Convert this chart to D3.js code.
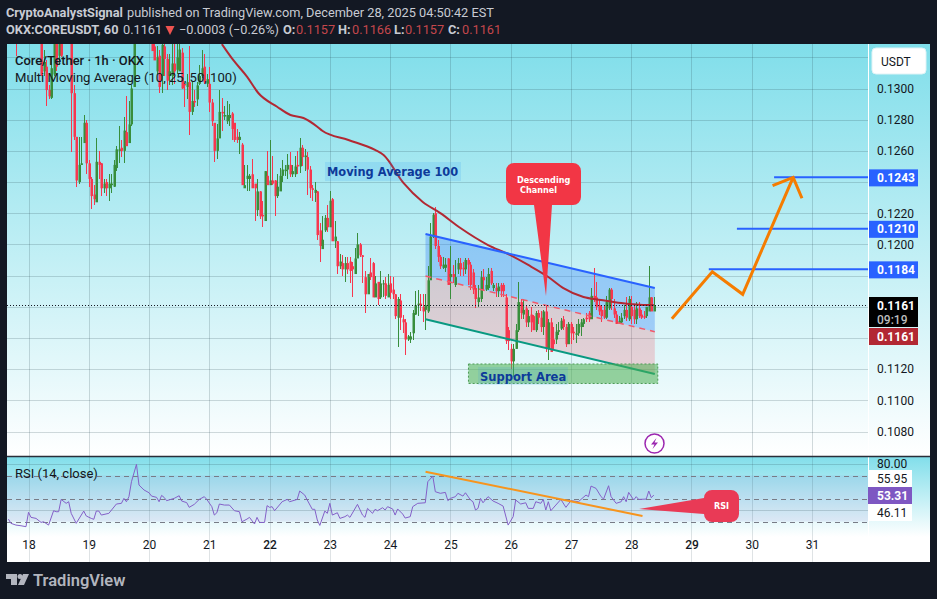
<!DOCTYPE html>
<html>
<head>
<meta charset="utf-8">
<script src="https://d3js.org/d3.v7.min.js"></script>
<style>
  html, body { margin: 0; padding: 0; background: #131823; }
  svg { display: block; font-family: Roboto, sans-serif; }
</style>
</head>
<body>
<div id="chart"></div>
<script>
// candles are hourly, first one is hour -8 (hour 0 = start of day 18)
// prices are in ticks of 0.0001 USDT
var firstHour = -8;

var candleOpen = [
  1338,1333,1338,1335,1331,1336,1333,1337,1334,1338,
  1336,1339,1335,1331,1311,1314,1299,1294,1309,1336,
  1321,1338,1336,1338,1334,1334,1297,1269,1240,1251,
  1265,1278,1252,1242,1232,1227,1253,1252,1236,1240,
  1236,1238,1237,1249,1260,1262,1260,1272,1265,1277,
  1301,1335,1338,1335,1337,1334,1336,1331,1327,1311,
  1321,1308,1327,1319,1308,1308,1316,1312,1311,1323,
  1303,1301,1304,1285,1292,1293,1303,1308,1314,1303,
  1303,1291,1278,1260,1268,1285,1282,1279,1281,1284,
  1278,1269,1267,1264,1236,1242,1242,1245,1239,1222,
  1234,1219,1215,1244,1238,1241,1241,1231,1234,1244,
  1247,1248,1251,1245,1245,1251,1250,1262,1256,1256,
  1248,1236,1233,1234,1209,1197,1209,1217,1211,1229,
  1202,1202,1186,1188,1184,1188,1189,1186,1181,1191,
  1200,1193,1179,1168,1182,1188,1166,1176,1166,1175,
  1175,1166,1175,1171,1168,1153,1164,1152,1150,1139,
  1139,1143,1155,1161,1162,1160,1158,1157,1177,1205,
  1220,1199,1192,1185,1185,1191,1179,1181,1174,1184,
  1188,1185,1184,1190,1187,1182,1172,1163,1165,1179,
  1171,1172,1183,1172,1172,1170,1174,1174,1166,1145,
  1133,1125,1133,1145,1163,1155,1159,1150,1155,1154,
  1145,1156,1153,1147,1157,1133,1150,1139,1139,1144,
  1146,1152,1147,1136,1149,1144,1142,1143,1147,1149,
  1153,1156,1152,1167,1166,1161,1158,1158,1153,1159,
  1171,1159,1155,1149,1150,1154,1158,1152,1160,1158,
  1152,1159,1155,1154,1154,1157,1166,1157
];
var candleHigh = [
  1342,1340,1341,1340,1338,1341,1339,1342,1340,1343,
  1341,1344,1340,1338,1325,1318,1302,1320,1334,1341,
  1339,1341,1341,1342,1338,1339,1302,1269,1269,1269,
  1283,1280,1254,1243,1238,1268,1260,1252,1242,1242,
  1245,1245,1254,1263,1276,1267,1282,1295,1292,1302,
  1341,1342,1344,1340,1343,1339,1341,1338,1331,1327,
  1325,1329,1331,1322,1322,1331,1329,1329,1329,1326,
  1303,1309,1327,1305,1299,1304,1315,1325,1322,1309,
  1314,1293,1278,1277,1299,1294,1289,1292,1290,1285,
  1278,1274,1272,1265,1251,1251,1245,1255,1239,1242,
  1234,1228,1247,1260,1267,1257,1241,1245,1249,1254,
  1251,1258,1259,1251,1257,1260,1268,1264,1261,1259,
  1250,1238,1240,1234,1214,1218,1219,1225,1234,1230,
  1215,1202,1194,1193,1192,1192,1192,1189,1198,1207,
  1201,1193,1183,1168,1191,1189,1180,1176,1183,1177,
  1179,1181,1180,1179,1168,1166,1168,1155,1152,1142,
  1144,1158,1170,1171,1168,1168,1168,1186,1214,1220,
  1224,1203,1193,1192,1191,1191,1199,1187,1190,1191,
  1191,1189,1191,1191,1189,1184,1174,1174,1183,1184,
  1179,1185,1185,1175,1175,1175,1175,1175,1168,1147,
  1136,1136,1149,1176,1165,1165,1161,1158,1160,1155,
  1157,1158,1157,1158,1161,1152,1153,1147,1149,1150,
  1153,1154,1149,1150,1150,1147,1149,1152,1152,1153,
  1156,1157,1172,1185,1176,1165,1161,1161,1167,1172,
  1172,1165,1157,1154,1156,1161,1166,1167,1167,1161,
  1163,1163,1158,1157,1160,1186,1166,1166
];
var candleLow = [
  1331,1330,1333,1321,1331,1332,1331,1333,1331,1335,
  1333,1334,1331,1308,1308,1289,1293,1293,1308,1311,
  1315,1320,1331,1332,1331,1259,1267,1237,1239,1251,
  1265,1245,1237,1223,1225,1227,1242,1231,1233,1231,
  1228,1233,1237,1247,1252,1256,1252,1263,1265,1276,
  1301,1331,1333,1331,1333,1330,1332,1324,1318,1309,
  1297,1297,1308,1299,1302,1302,1303,1309,1311,1300,
  1288,1293,1270,1283,1288,1289,1302,1307,1303,1301,
  1285,1276,1253,1255,1268,1273,1280,1277,1276,1267,
  1266,1265,1258,1238,1236,1234,1234,1236,1215,1218,
  1216,1211,1215,1238,1238,1238,1218,1230,1234,1240,
  1244,1242,1243,1243,1243,1245,1246,1250,1247,1232,
  1230,1228,1227,1203,1189,1197,1208,1208,1211,1202,
  1198,1181,1184,1180,1176,1181,1175,1166,1181,1191,
  1192,1175,1156,1168,1177,1166,1166,1161,1165,1166,
  1165,1166,1165,1165,1152,1134,1145,1143,1129,1138,
  1137,1139,1155,1154,1157,1150,1145,1156,1177,1204,
  1197,1189,1184,1184,1182,1174,1165,1175,1173,1181,
  1180,1180,1181,1174,1171,1168,1159,1160,1163,1170,
  1170,1171,1174,1170,1166,1166,1166,1166,1136,1132,
  1120,1115,1133,1144,1152,1152,1147,1147,1144,1145,
  1144,1149,1144,1142,1131,1126,1131,1132,1136,1142,
  1145,1145,1134,1136,1136,1139,1137,1141,1141,1147,
  1150,1150,1152,1163,1158,1155,1150,1152,1152,1158,
  1158,1153,1149,1149,1149,1152,1151,1151,1149,1149,
  1149,1153,1152,1152,1153,1157,1157,1157
];
var candleClose = [
  1333,1338,1335,1331,1336,1333,1337,1334,1338,1336,
  1339,1335,1333,1308,1317,1299,1295,1313,1331,1314,
  1335,1321,1338,1334,1332,1297,1269,1241,1251,1252,
  1278,1252,1242,1231,1229,1253,1251,1236,1239,1236,
  1239,1239,1251,1261,1261,1260,1273,1263,1277,1300,
  1335,1338,1335,1337,1334,1336,1333,1324,1318,1320,
  1301,1328,1319,1305,1311,1316,1311,1320,1325,1300,
  1302,1304,1285,1292,1291,1302,1308,1313,1304,1306,
  1291,1279,1260,1268,1285,1284,1283,1283,1283,1274,
  1267,1267,1269,1238,1238,1244,1244,1236,1236,1234,
  1218,1218,1247,1238,1241,1239,1231,1237,1244,1248,
  1248,1251,1245,1247,1250,1250,1262,1256,1257,1248,
  1236,1235,1235,1206,1199,1203,1217,1211,1228,1202,
  1205,1186,1189,1184,1188,1184,1183,1184,1191,1200,
  1193,1192,1168,1181,1179,1166,1175,1165,1175,1175,
  1167,1174,1169,1168,1154,1165,1153,1150,1139,1141,
  1141,1156,1161,1162,1161,1157,1161,1177,1205,1219,
  1199,1192,1186,1187,1187,1174,1181,1179,1179,1188,
  1184,1184,1190,1187,1174,1171,1165,1166,1179,1177,
  1174,1181,1175,1174,1170,1173,1170,1170,1138,1138,
  1125,1133,1145,1163,1156,1158,1150,1154,1150,1145,
  1156,1153,1147,1157,1133,1150,1131,1136,1144,1145,
  1151,1147,1136,1149,1143,1143,1143,1149,1150,1152,
  1152,1152,1167,1165,1160,1157,1154,1153,1163,1171,
  1165,1155,1149,1151,1153,1158,1153,1165,1154,1152,
  1159,1154,1153,1153,1160,1166,1157,1161
];

// moving average 100
var maHours = [77,81.5,87,91.5,99,104.3,109.5,115,117,127.4,138,141.4,149.3,157,164,172,183,191,199,207,213,221,228,236,247,249];
var maValues = [.13285,.13183,.13076,.12971,.12883,.12830,.12811,.12755,.12729,.12670,.12606,.12573,.12394,.12272,.12201,.12105,.11996,.11938,.11868,.11791,.11720,.11663,.11644,.11624,.11611,.11611];

// rsi
var rsiHours = [-8,-7,-5,-3,-1,0,1,3,5,6,8,10,11,12,13,15,16,17,19,22,23,25,26,27,28,29,32,35,37,38,39,40,41,43,44,46,48,49,51,52,53,54,55,58,60,61,63,64,66,68,70,71,73,74,75,76,78,80,82,84,85,87,88,90,91,92,94,95,96,97,98,101,103,104,107,108,110,111,113,114,115,116,118,119,120,121,123,124,126,127,128,131,133,134,135,137,138,139,141,142,143,145,146,147,149,150,152,153,155,158,159,161,162,164,166,167,168,170,171,173,174,176,177,178,179,180,181,183,185,187,189,191,193,194,196,198,199,201,202,204,205,206,207,208,210,212,214,216,219,220,222,223,224,226,228,229,231,232,234,236,237,238,239,241,242,243,246,247,248,249];
var rsiValues = [32.1,28.4,26.9,26.3,25.5,38,33.6,32.7,29.2,29.8,26.9,39.4,38.5,38.5,49.2,45.8,47.2,37.1,28.4,39.1,34.8,32.7,31.9,39.1,39.1,35.6,37.1,45.2,45.8,50.1,47.2,51.6,64.6,79.7,61.7,57.4,55,52.1,51,47.2,52.7,51,48.1,50.1,52.4,47.8,46.4,42.3,44.9,49.2,51.6,49.2,42.9,35.6,37.6,45.2,44.3,44.3,39.4,38.5,29.8,32.1,33.6,27.8,33.6,29.2,29.2,43.8,42.3,42.9,39.4,47.2,49.2,47.2,49.2,56.5,53,48.7,40.6,40.6,31.3,26.6,39.1,37.1,45.8,35.6,37.6,32.7,34.2,35.6,33.6,44.9,35.6,33.6,41.4,37.1,40.6,39.4,42,40,42.9,40.9,35.6,40.9,36.5,33,34.2,42.9,45.8,46.3,64.6,69.5,55.9,54.5,55.3,48.1,50.1,51.6,54.5,52.1,55,48.7,47.2,40,41.4,50.1,46.3,51.6,47.8,45.8,43.4,26.9,34.2,48.7,45.2,46.3,41.4,41.4,47.2,45.8,49.2,40,47.2,39.4,44.3,49.2,42.3,48.1,47.2,49.2,53,51.6,60.8,58.8,51.6,49.5,61.1,51.6,45.8,47.2,51.6,47.2,55.3,48.7,51.6,49.2,49.5,56.5,50.7,53];

// axes
var dayTicks = [18,19,20,21,22,23,24,25,26,27,28,29,30,31];
var boldDays = [22,29];
var priceTicks = [.132,.13,.128,.126,.124,.122,.12,.118,.116,.114,.112,.11,.108];
var priceLabels = [.13,.128,.126,.122,.12,.112,.11,.108];
var rsiGrid = [80,40];
var rsiBands = [70,50,30];

// drawings: channel lines run from hour channelHours[0] to channelHours[1]
var channelHours = [158.1,249.4];
var channelTop = [.12067,.11720];
var channelMid = [.11797,.11440];
var channelLow = [.11520,.11169];
var supportHours = [175.2,250.6];
var supportPrices = [.11233,.11108];
var targetPrices = [.1243,.1210,.1184];
var targetHours = [296.9,282.1,270.9];
var pathHours = [256.2,272.3,284.4,304.5];
var pathPrices = [.11523,.11825,.11680,.1243];
var arrowHours = [296.3,304.5,308];
var arrowPrices = [.12377,.1243,.12296];
var rsiTrendHours = [158.1,244.5];
var rsiTrendValues = [73.3,34.8];

var W = 937, H = 599;
var left = 7, right = 868, frameRight = 930, top0 = 44, paneBottom = 456, rsiBottom = 533, bottom = 562;

var svg = d3.select("#chart").append("svg").attr("width", W).attr("height", H);

var x = d3.scaleLinear().domain([0, 312]).range([28.5, 812]);
var y = d3.scaleLinear().domain([.13, .108]).range([88.5, 431.5]);
var yRsi = d3.scaleLinear().domain([80, 40]).range([464, 510]);

var defs = svg.append("defs");
function gradient(id, y1, y2) {
  var g = defs.append("linearGradient").attr("id", id).attr("gradientUnits", "userSpaceOnUse")
    .attr("x1", 0).attr("x2", 0).attr("y1", y1).attr("y2", y2);
  g.append("stop").attr("offset", "0%").attr("stop-color", "#80deea");
  g.append("stop").attr("offset", "100%").attr("stop-color", "#ffffff");
}
gradient("mainBg", top0, paneBottom);
gradient("rsiBg", paneBottom, rsiBottom + 4);
defs.append("clipPath").attr("id", "mainClip").append("rect")
  .attr("x", left).attr("y", top0).attr("width", right - left).attr("height", paneBottom - top0);
defs.append("clipPath").attr("id", "rsiClip").append("rect")
  .attr("x", left).attr("y", paneBottom).attr("width", right - left).attr("height", bottom - paneBottom);

// backgrounds
svg.append("rect").attr("x", left).attr("y", top0).attr("width", frameRight - left).attr("height", bottom - top0).attr("fill", "#fff");
svg.append("rect").attr("x", left).attr("y", top0).attr("width", frameRight - left).attr("height", paneBottom - top0).attr("fill", "url(#mainBg)");
svg.append("rect").attr("x", left).attr("y", paneBottom).attr("width", frameRight - left).attr("height", rsiBottom + 4 - paneBottom).attr("fill", "url(#rsiBg)");
svg.append("rect").attr("x", left).attr("y", yRsi(70)).attr("width", right - left).attr("height", yRsi(30) - yRsi(70)).attr("fill", "rgba(126,87,194,0.1)");
svg.append("line").attr("x1", right + 0.5).attr("x2", right + 0.5).attr("y1", top0).attr("y2", bottom).attr("stroke", "#fff").attr("stroke-width", 1);

// grid
var main = svg.append("g").attr("clip-path", "url(#mainClip)");
var gridColor = "rgba(42,70,80,0.2)";
main.selectAll(".hgrid").data(priceTicks).enter().append("line")
  .attr("x1", left).attr("x2", right)
  .attr("y1", function(d) { return Math.round(y(d)) + 0.5; })
  .attr("y2", function(d) { return Math.round(y(d)) + 0.5; })
  .attr("stroke", gridColor);
main.selectAll(".vgrid").data(dayTicks).enter().append("line")
  .attr("y1", top0).attr("y2", paneBottom)
  .attr("x1", function(d) { return Math.round(x((d - 18) * 24)) + 0.5; })
  .attr("x2", function(d) { return Math.round(x((d - 18) * 24)) + 0.5; })
  .attr("stroke", gridColor);

var rsiPane = svg.append("g").attr("clip-path", "url(#rsiClip)");
rsiPane.selectAll(".vgrid").data(dayTicks).enter().append("line")
  .attr("y1", paneBottom).attr("y2", bottom)
  .attr("x1", function(d) { return Math.round(x((d - 18) * 24)) + 0.5; })
  .attr("x2", function(d) { return Math.round(x((d - 18) * 24)) + 0.5; })
  .attr("stroke", "rgba(42,70,80,0.15)");
rsiPane.selectAll(".hgrid").data(rsiGrid).enter().append("line")
  .attr("x1", left).attr("x2", right)
  .attr("y1", function(d) { return Math.round(yRsi(d)) + 0.5; })
  .attr("y2", function(d) { return Math.round(yRsi(d)) + 0.5; })
  .attr("stroke", gridColor);
rsiPane.selectAll(".band").data(rsiBands).enter().append("line")
  .attr("x1", left).attr("x2", right)
  .attr("y1", function(d) { return Math.round(yRsi(d)) + 0.5; })
  .attr("y2", function(d) { return Math.round(yRsi(d)) + 0.5; })
  .attr("stroke", "#787b86").attr("stroke-dasharray", "5,4");

// channel fills sit under the candles
function band(a, b, fill) {
  var d = d3.area().x(function(h) { return x(h); })
    .y0(function(h, i) { return y(b[i]); })
    .y1(function(h, i) { return y(a[i]); });
  main.append("path").attr("d", d(channelHours)).attr("fill", fill);
}
band(channelTop, channelMid, "rgba(41,120,245,0.32)");
band(channelMid, channelLow, "rgba(242,54,69,0.2)");

// candles
var candles = candleOpen.map(function(o, i) {
  return { hour: firstHour + i, o: o / 1e4, h: candleHigh[i] / 1e4, l: candleLow[i] / 1e4, c: candleClose[i] / 1e4 };
});
var upColor = "#388e3c", downColor = "#f7374f";
function candleColor(d) { return d.c >= d.o ? upColor : downColor; }
main.selectAll(".wick").data(candles).enter().append("line")
  .attr("x1", function(d) { return Math.round(x(d.hour)) + 0.5; })
  .attr("x2", function(d) { return Math.round(x(d.hour)) + 0.5; })
  .attr("y1", function(d) { return y(d.h); })
  .attr("y2", function(d) { return y(d.l); })
  .attr("stroke", candleColor).attr("shape-rendering", "crispEdges");
main.selectAll(".body").data(candles).enter().append("rect")
  .attr("x", function(d) { return Math.round(x(d.hour)) - 0.5; })
  .attr("width", 2.5)
  .attr("y", function(d) { return y(Math.max(d.o, d.c)); })
  .attr("height", function(d) { return Math.max(1, Math.abs(y(d.o) - y(d.c))); })
  .attr("fill", candleColor);

// moving average
var maLine = d3.line().curve(d3.curveMonotoneX)
  .x(function(d, i) { return x(maHours[i]); })
  .y(function(d) { return y(d); });
main.append("path").attr("d", maLine(maValues)).attr("fill", "none").attr("stroke", "#b22833").attr("stroke-width", 2);

// channel lines
function chLine(v, color, width, dash) {
  main.append("line")
    .attr("x1", x(channelHours[0])).attr("x2", x(channelHours[1]))
    .attr("y1", y(v[0])).attr("y2", y(v[1]))
    .attr("stroke", color).attr("stroke-width", width).attr("stroke-dasharray", dash);
}
chLine(channelTop, "#2962ff", 2, null);
chLine(channelMid, "#f2596b", 1.5, "6,5");
chLine(channelLow, "#089981", 2, null);

// last price dotted line
main.append("line").attr("x1", left).attr("x2", right).attr("y1", Math.round(y(.1161)) + 0.5).attr("y2", Math.round(y(.1161)) + 0.5)
  .attr("stroke", "#131722").attr("stroke-dasharray", "1,2");

// support box
main.append("rect")
  .attr("x", x(supportHours[0])).attr("width", x(supportHours[1]) - x(supportHours[0]))
  .attr("y", y(supportPrices[0])).attr("height", y(supportPrices[1]) - y(supportPrices[0]))
  .attr("fill", "rgba(76,175,80,0.55)").attr("stroke", "#4c9a55").attr("stroke-dasharray", "2,2");
main.append("rect").attr("x", 478).attr("y", 367).attr("width", 90).attr("height", 18).attr("fill", "rgba(33,150,243,0.12)");
main.append("text").attr("x", 480).attr("y", 381).text("Support Area")
  .attr("font-family", "DejaVu Sans").attr("font-weight", 700).attr("font-size", 11.5).attr("fill", "#0d3a9a");

// moving average note
main.append("rect").attr("x", 325).attr("y", 162).attr("width", 136).attr("height", 19).attr("fill", "rgba(33,150,243,0.15)");
main.append("text").attr("x", 327).attr("y", 176).text("Moving Average 100")
  .attr("font-family", "DejaVu Sans").attr("font-weight", 700).attr("font-size", 11.4).attr("fill", "#0d3a9a");

// target lines and projected path
main.selectAll(".target").data(targetPrices).enter().append("line")
  .attr("x1", function(d, i) { return x(targetHours[i]); }).attr("x2", right)
  .attr("y1", function(d) { return y(d); }).attr("y2", function(d) { return y(d); })
  .attr("stroke", "#2962ff").attr("stroke-width", 2);
var hourLine = function(hours) {
  return d3.line().x(function(d, i) { return x(hours[i]); }).y(function(d) { return y(d); });
};
main.append("path").attr("d", hourLine(pathHours)(pathPrices)).attr("fill", "none").attr("stroke", "#f57c00").attr("stroke-width", 3);
main.append("path").attr("d", hourLine(arrowHours)(arrowPrices)).attr("fill", "none").attr("stroke", "#f57c00").attr("stroke-width", 3);

// callout
main.append("path").attr("fill", "#f23645")
  .attr("d", "M514,163H573a8,8 0 0 1 8,8V197a8,8 0 0 1 -8,8H552L546,296L534,205H514a8,8 0 0 1 -8,-8V171a8,8 0 0 1 8,-8Z");
main.append("text").attr("x", 517).attr("y", 183).text("Descending")
  .attr("fill", "#fff").attr("font-size", 9).attr("font-weight", 700).attr("font-family", "DejaVu Sans Condensed, Liberation Sans");
main.append("text").attr("x", 520).attr("y", 193).text("Channel")
  .attr("fill", "#fff").attr("font-size", 9).attr("font-weight", 700).attr("font-family", "DejaVu Sans Condensed, Liberation Sans");

// legends
main.append("text").attr("x", 15).attr("y", 65).text("Core/Tether \u00b7 1h \u00b7 OKX")
  .attr("font-size", 12.9).attr("font-weight", 500).attr("fill", "#131722");
main.append("text").attr("x", 15).attr("y", 82).text("Multi Moving Average (10, 25, 50, 100)")
  .attr("font-size", 13.1).attr("fill", "#131722");

// rsi line and drawings
var rsiLine = d3.line().x(function(d, i) { return x(rsiHours[i]); }).y(function(d) { return yRsi(d); });
rsiPane.append("path").attr("d", rsiLine(rsiValues)).attr("fill", "none").attr("stroke", "#8460c8").attr("stroke-width", 1);
rsiPane.append("line")
  .attr("x1", x(rsiTrendHours[0])).attr("x2", x(rsiTrendHours[1]))
  .attr("y1", yRsi(rsiTrendValues[0])).attr("y2", yRsi(rsiTrendValues[1]))
  .attr("stroke", "#f7941d").attr("stroke-width", 2);
rsiPane.append("path").attr("fill", "#e93a56")
  .attr("d", "M712,490H731a8,8 0 0 1 8,8V514a8,8 0 0 1 -8,8H712a8,8 0 0 1 -8,-8L639,509L704,498a8,8 0 0 1 8,-8Z");
rsiPane.append("text").attr("x", 721.5).attr("y", 509).attr("text-anchor", "middle").text("RSI")
  .attr("fill", "#fff").attr("font-size", 9).attr("font-weight", 700).attr("font-family", "DejaVu Sans Condensed, Liberation Sans");
rsiPane.append("text").attr("x", 15).attr("y", 478).text("RSI (14, close)").attr("font-size", 13).attr("fill", "#131722");

// price axis, the ticks under the value labels are left out
var priceAxis = d3.axisRight(y).tickValues(priceLabels).tickFormat(d3.format(".4f")).tickSize(0).tickPadding(8);
var gAxis = svg.append("g").attr("transform", "translate(869,0)").call(priceAxis);
gAxis.select(".domain").remove();
gAxis.selectAll("text").attr("font-size", 12).attr("font-family", "Roboto").attr("fill", "#131722");

// blue target labels
function priceLabel(value, yTop, h, fill, textColor) {
  svg.append("rect").attr("x", 869).attr("y", yTop).attr("width", 49).attr("height", h).attr("fill", fill);
  svg.append("text").attr("x", 877).attr("y", yTop + 12.5).text(value)
    .attr("font-size", 12).attr("font-weight", 700).attr("fill", textColor);
}
targetPrices.forEach(function(p) {
  priceLabel(d3.format(".4f")(p), y(p) - 8, 17, "#2962ff", "#fff");
});
priceLabel("0.1161", 297, 30, "#000", "#fff");
svg.append("text").attr("x", 877).attr("y", 324).text("09:19").attr("font-size", 12).attr("font-weight", 500).attr("fill", "#bdbdbd");
priceLabel("0.1161", 328, 17, "#b22833", "#fff");

// USDT button
svg.append("rect").attr("x", 872).attr("y", 48).attr("width", 54).attr("height", 26).attr("rx", 4).attr("fill", "#fff").attr("stroke", "#e0f3f6");
svg.append("text").attr("x", 881).attr("y", 66).text("USDT").attr("font-size", 12).attr("fill", "#131722");

// rsi axis labels
var rsiAxis = d3.axisRight(yRsi).tickValues([80]).tickFormat(d3.format(".2f")).tickSize(0).tickPadding(8);
var gRsi = svg.append("g").attr("transform", "translate(869,0)").call(rsiAxis);
gRsi.select(".domain").remove();
gRsi.selectAll("text").attr("font-size", 12).attr("font-family", "Roboto").attr("fill", "#131722");
function rsiLabel(value, yTop, fill, textColor) {
  svg.append("rect").attr("x", 868).attr("y", yTop).attr("width", 44).attr("height", 17).attr("fill", fill);
  svg.append("text").attr("x", 877).attr("y", yTop + 13).text(value).attr("font-size", 12)
    .attr("fill", textColor).attr("font-weight", fill === "#fff" ? 400 : 700);
}
rsiLabel("55.95", 470, "#fff", "#131722");
rsiLabel("53.31", 487, "#7e57c2", "#fff");
rsiLabel("46.11", 504, "#fff", "#131722");

// time axis
var timeAxis = d3.axisBottom(x).tickValues(dayTicks.map(function(d) { return (d - 18) * 24; }))
  .tickFormat(function(h) { return h / 24 + 18; }).tickSize(0).tickPadding(0);
var gTime = svg.append("g").attr("transform", "translate(0,540)").call(timeAxis);
gTime.select(".domain").remove();
gTime.selectAll("text").attr("font-size", 12).attr("font-family", "Roboto").attr("fill", "#131722")
  .attr("font-weight", function(h) { return boldDays.indexOf(h / 24 + 18) >= 0 ? 500 : 400; });

// frame and pane separator
svg.append("line").attr("x1", left).attr("x2", frameRight).attr("y1", paneBottom + 0.5).attr("y2", paneBottom + 0.5).attr("stroke", "#2a2e39").attr("stroke-width", 1.5);
svg.append("rect").attr("x", left - 0.5).attr("y", top0 - 0.5).attr("width", frameRight - left + 1).attr("height", bottom - top0 + 1)
  .attr("fill", "none").attr("stroke", "#131823");

// lightning icon
var bolt = svg.append("g").attr("transform", "translate(654.5,443.5)");
bolt.append("circle").attr("r", 9.5).attr("fill", "#fff").attr("stroke", "#9c27b0").attr("stroke-width", 1.5);
bolt.append("path").attr("d", "M2,-5.5L-3.5,1H0L-2,5.5L3.5,-1H0Z").attr("fill", "#9c27b0");

// header
function head(xp, yp, txt, color, weight) {
  svg.append("text").attr("x", xp).attr("y", yp).text(txt).attr("fill", color)
    .attr("font-size", 12.75).attr("font-weight", weight || 400);
}
var headColor = "#c8cbd3", headRed = "#c4474c";
head(6, 17, "CryptoAnalystSignal", headColor, 700);
head(127, 17, "published on TradingView.com, December 28, 2025 04:50:42 EST", headColor);
head(6, 34, "OKX:COREUSDT, 60", headColor, 700);
head(123, 34, "0.1161", headColor);
svg.append("path").attr("d", "M165.5,26H174.5L170,35Z").attr("fill", "#ef5350");
head(179, 34, "\u22120.0003 (\u22120.26%)", headColor);
head(283, 34, "O:", headColor, 700);
head(296, 34, "0.1157", headRed);
head(338, 34, "H:", headColor, 700);
head(352, 34, "0.1166", headRed);
head(394, 34, "L:", headColor, 700);
head(405, 34, "0.1157", headRed);
head(448, 34, "C:", headColor, 700);
head(462, 34, "0.1161", headRed);

// logo
var logo = svg.append("g").attr("fill", "#b2b5be");
logo.append("path").attr("d", "M6,574H17V585H11V579H6Z");
logo.append("circle").attr("cx", 20).attr("cy", 576.5).attr("r", 2.5);
logo.append("path").attr("d", "M23,574H29L24,585H18Z");
logo.append("text").attr("x", 33).attr("y", 586).text("TradingView").attr("font-size", 16.5).attr("font-weight", 600);
</script>
</body>
</html>
